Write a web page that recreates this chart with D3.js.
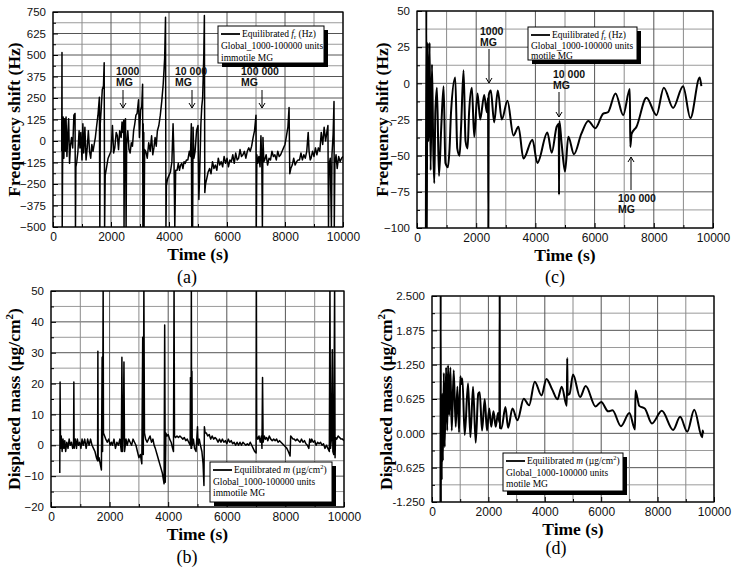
<!DOCTYPE html>
<html><head><meta charset="utf-8">
<script src="https://cdn.jsdelivr.net/npm/d3@7"></script>
<style>body{margin:0;background:#fff} svg{display:block}</style>
</head><body>
<svg id="chart" width="733" height="571"></svg>
<script>
// ---------- data ----------
const timeTicks = [0, 2000, 4000, 6000, 8000, 10000];
const timeGrid = [0,1000,2000,3000,4000,5000,6000,7000,8000,9000,10000];

const freqImmotileTicks = [-500,-375,-250,-125,0,125,250,375,500,625,750];
const freqMotileTicks = [-100,-75,-50,-25,0,25,50];
const massImmotileTicks = [-20,-10,0,10,20,30,40,50];
const massMotileTicks = [-1.25,-0.625,0,0.625,1.25,1.875,2.5];
const massMotileLabels = ["-1.250","-0.625","0.000","0.625","1.250","1.875","2.500"];

// (a) frequency shift, immotile MG  [time s, Hz]
const freqImmotile = [[300,-60],[310,515],[318,-500],[330,-150],[350,140],[375,-100],[400,130],[430,-60],[450,140],[480,-90],[510,40],[540,130],[570,-130],[600,-30],[640,20],[680,-40],[720,150],[760,160],[775,-500],[790,-150],[820,-120],[860,-60],[900,60],[930,-40],[960,50],[1000,-110],[1030,100],[1060,-70],[1100,80],[1140,-110],[1180,-40],[1220,60],[1260,-60],[1300,-100],[1340,-20],[1380,-60],[1420,-20],[1460,20],[1500,80],[1550,150],[1600,255],[1615,-500],[1630,100],[1660,180],[1700,300],[1740,320],[1765,455],[1780,-500],[1800,-200],[1850,-150],[1900,-100],[1950,-80],[2000,-60],[2050,90],[2090,-70],[2130,-40],[2180,50],[2220,30],[2260,-50],[2300,60],[2350,20],[2380,110],[2410,50],[2440,120],[2450,-500],[2470,80],[2500,130],[2520,-500],[2540,-20],[2580,60],[2620,-50],[2660,-70],[2700,-10],[2740,-30],[2780,60],[2820,100],[2860,150],[2900,160],[2950,240],[2980,20],[3020,180],[3060,200],[3090,330],[3100,-500],[3110,100],[3120,-500],[3130,50],[3140,-500],[3160,-50],[3200,-60],[3250,-100],[3300,-10],[3350,-60],[3400,30],[3440,-80],[3480,-40],[3520,20],[3560,-30],[3600,60],[3650,90],[3700,150],[3750,230],[3800,330],[3850,480],[3880,720],[3895,-500],[3910,-260],[3950,-220],[4000,-200],[4050,-180],[4100,-120],[4140,100],[4170,-80],[4200,-500],[4230,-170],[4280,-170],[4320,-130],[4360,-170],[4400,-140],[4440,-130],[4480,-160],[4520,-120],[4560,-130],[4600,-110],[4650,-110],[4700,-60],[4740,-90],[4770,100],[4785,-500],[4800,-80],[4815,-500],[4830,80],[4860,-100],[4900,-60],[4950,60],[5000,90],[5030,-340],[5060,-180],[5100,100],[5130,200],[5160,250],[5200,500],[5220,730],[5235,-300],[5260,-250],[5300,-220],[5350,-180],[5400,-160],[5450,-190],[5500,-120],[5550,-160],[5600,-140],[5650,-170],[5700,-100],[5750,-140],[5800,-120],[5850,-150],[5900,-90],[5950,-130],[6000,-100],[6050,-150],[6100,-110],[6150,-120],[6200,-80],[6250,-130],[6300,-70],[6350,-110],[6400,-100],[6450,-50],[6500,-90],[6550,-80],[6600,-60],[6650,-100],[6700,-60],[6750,-40],[6800,-60],[6850,-30],[6900,20],[6950,60],[7000,150],[7010,-500],[7030,-80],[7060,-130],[7100,-90],[7140,-150],[7170,30],[7200,-120],[7220,-500],[7240,20],[7270,-120],[7300,-110],[7350,-80],[7400,-140],[7450,-100],[7500,-110],[7550,-60],[7600,-90],[7650,-80],[7700,-110],[7750,-60],[7800,-90],[7850,-80],[7900,-60],[7950,-40],[8000,-20],[8050,30],[8100,80],[8140,195],[8165,-190],[8200,-160],[8250,-140],[8300,-100],[8350,-140],[8400,-120],[8450,-110],[8500,-110],[8550,-70],[8600,-110],[8650,-80],[8700,-100],[8750,-60],[8800,50],[8830,-60],[8870,-110],[8900,-100],[8950,-60],[9000,-90],[9050,-40],[9100,-80],[9150,-40],[9200,-60],[9250,50],[9300,-20],[9350,80],[9400,0],[9450,60],[9480,90],[9500,-500],[9520,-140],[9560,-100],[9600,-500],[9620,-80],[9660,40],[9690,230],[9700,-500],[9720,-130],[9760,-80],[9800,-160],[9850,-90],[9900,-120],[9950,-100],[10000,-90]];

// (b) displaced mass, immotile MG  [time s, ug/cm2]
const massImmotile = [[300,-9],[310,20.5],[325,-1],[350,3],[380,-2],[410,2],[440,-1],[470,1.5],[500,-2],[540,1],[580,-1],[620,2],[660,0],[700,1],[740,-1],[770,0],[780,20.5],[790,-1],[830,2],[870,-1],[900,2],[940,0],[980,1],[1020,-1],[1060,2],[1100,0],[1150,2],[1200,-1],[1250,2],[1300,0],[1350,2],[1400,0],[1450,-1],[1500,-2],[1550,-4],[1590,-5],[1600,30.5],[1610,-5],[1640,-4],[1680,-6],[1720,-8],[1745,28.5],[1760,-2],[1780,52],[1790,4],[1830,3],[1870,2],[1920,1],[1970,2],[2020,0],[2060,1],[2100,0],[2150,2],[2200,-1],[2250,1],[2300,0],[2350,2],[2400,-2],[2420,28.5],[2440,-2],[2470,6],[2490,27],[2510,-2],[2560,2],[2600,0],[2650,2],[2700,1],[2750,0],[2800,2],[2850,1],[2900,0],[2950,-2],[3000,-4],[3050,-3],[3100,-6],[3130,35],[3150,-3],[3170,52],[3190,4],[3230,2],[3280,1],[3330,2],[3380,3],[3430,1],[3480,2],[3520,0],[3560,-1],[3620,-3],[3680,-5],[3740,-7],[3800,-9],[3860,-12.5],[3880,39],[3900,-12],[3920,4],[3960,3],[4000,3.5],[4050,2],[4100,1],[4150,-1],[4180,-2],[4200,52],[4215,3],[4250,2.5],[4300,3],[4350,2.5],[4400,3],[4450,2.5],[4500,2],[4550,2.5],[4600,1.5],[4650,2],[4700,1],[4750,0],[4760,22],[4780,-1],[4790,52],[4800,-1],[4810,24],[4820,0],[4860,2],[4900,-1],[4950,-2],[5000,6],[5020,0],[5060,2],[5100,0],[5150,-2],[5190,-6],[5220,-13],[5235,6],[5260,4],[5300,4],[5350,3],[5400,3.5],[5450,2],[5500,3],[5550,2],[5600,2.5],[5650,2],[5700,1],[5750,2],[5800,1],[5850,2],[5900,1],[5950,1.5],[6000,0.5],[6050,2],[6100,1],[6150,1.5],[6200,0.5],[6250,1],[6300,0],[6350,1],[6400,0],[6450,1],[6500,0],[6550,1],[6600,0.5],[6650,0],[6700,0.5],[6750,0],[6800,1],[6850,0],[6900,-1],[6950,-2],[7000,-2.5],[7010,52],[7020,3],[7060,2],[7100,3],[7140,1],[7180,3],[7200,-1],[7220,22],[7240,1],[7280,3],[7320,2],[7360,2.5],[7400,1.5],[7450,3],[7500,2],[7550,1.5],[7600,2],[7650,1.5],[7700,2],[7750,1],[7800,1.5],[7850,1],[7900,0.5],[7950,0],[8000,-0.5],[8050,-1],[8100,-2],[8160,-3.5],[8180,3],[8220,2.5],[8260,2],[8300,2],[8350,1.5],[8400,2],[8450,1.5],[8500,1],[8550,2],[8600,1],[8650,1.5],[8700,0.5],[8750,0],[8800,-1],[8830,2],[8870,1],[8900,2],[8950,1],[9000,1.5],[9050,0],[9100,1],[9150,0.5],[9200,1],[9250,0],[9300,0.5],[9350,-1],[9400,0],[9450,-1],[9500,-2],[9520,52],[9540,-1],[9570,2],[9600,31],[9620,-2],[9650,-3],[9680,52],[9695,-4],[9710,2.5],[9750,2],[9800,3],[9850,2.5],[9900,2],[9950,2],[10000,1.5]];

// (c) frequency shift, motile MG
const freqMotile = [[300,-100],[315,55],[330,-100],[340,-40],[360,28],[380,-40],[400,-30],[427,28],[460,-60],[506,13],[550,-45],[584,-69],[620,-20],[674,-3],[742,-64],[820,-30],[899,-2],[960,-55],[1045,-58],[1100,-45],[1150,-20],[1292,4],[1360,-45],[1438,-50],[1490,-30],[1573,9],[1640,-40],[1708,-45],[1760,-20],[1854,-3],[1933,-37],[2045,-7],[2135,-25],[2270,-8],[2360,-20],[2400,-10],[2410,-100],[2425,-8],[2494,-5],[2607,-27],[2730,-5],[2865,-25],[3056,-12],[3258,-36],[3427,-30],[3596,-52],[3899,-39],[4067,-55],[4404,-34],[4551,-48],[4719,-30],[4790,-28],[4798,-77],[4809,-26],[4888,-42],[5000,-61],[5112,-37],[5303,-49],[5550,-35],[5787,-26],[6022,-31],[6292,-21],[6450,-20],[6708,-7],[6966,-22],[7191,-4],[7205,-44],[7250,-35],[7416,-30],[7753,-10],[8090,-22],[8337,-3],[8652,-17],[8989,-2],[9236,-24],[9551,4],[9607,-2]];

// (d) displaced mass, motile MG
const massMotile = [[300,-1.3],[308,2.6],[315,-1.3],[330,0.7],[345,-0.85],[360,0.72],[385,-0.5],[420,1.1],[450,-0.25],[500,1.2],[540,0.05],[570,1.24],[610,0.33],[652,1.2],[700,0.05],[770,1.15],[841,0.12],[900,0.85],[960,0.02],[1006,1.04],[1040,0.9],[1077,1.0],[1160,-0.03],[1278,0.91],[1361,-0.07],[1455,0.85],[1550,-0.17],[1640,0.72],[1692,0.75],[1775,0.05],[1869,0.62],[1950,0.05],[2030,0.45],[2100,0.12],[2180,0.4],[2260,0.12],[2340,0.37],[2390,0.2],[2400,2.6],[2410,0.1],[2462,0.09],[2604,0.48],[2698,0.1],[2852,0.45],[3030,0.24],[3254,0.63],[3444,0.51],[3645,0.94],[3882,0.69],[4059,0.99],[4260,0.8],[4450,0.62],[4600,0.85],[4780,0.5],[4795,1.37],[4810,0.7],[4880,0.72],[5000,1.07],[5250,0.66],[5450,0.86],[5800,0.49],[6000,0.57],[6250,0.4],[6400,0.42],[6700,0.13],[7000,0.37],[7200,0.07],[7215,0.78],[7350,0.5],[7550,0.45],[7800,0.18],[8150,0.41],[8550,0.06],[8800,0.3],[9050,0.03],[9300,0.43],[9580,-0.07],[9600,0.05],[9620,0.0]];

const legendFreq = ["Equilibrated ", "f", "r", " (Hz)"];
const legendMass = ["Equilibrated ", "m", " (\u00b5g/cm", "2", ")"];
const legendGlobal = "Global_1000-100000 units";
const annotationLabels = [["1000","MG"],["10 000","MG"],["100 000","MG"]];

// ---------- drawing ----------
const svg = d3.select("#chart");
const SANS = "'Liberation Sans', Arial, sans-serif";
const SERIF = "'Liberation Serif', 'Times New Roman', serif";

function panel(cfg, id) {
  const g = svg.append("g");
  const x = d3.scaleLinear().domain([0, 10000]).range([cfg.x0, cfg.x1]);
  const y = d3.scaleLinear().domain([cfg.ticks[0], cfg.ticks[cfg.ticks.length-1]]).range([cfg.yBot, cfg.yTop]);
  const step = cfg.ticks[1] - cfg.ticks[0];
  const minor = cfg.ticks.slice(0, -1).map(t => t + step/2);

  // grid
  g.selectAll(".hm").data(minor).join("line")
    .attr("x1", cfg.x0).attr("x2", cfg.x1).attr("y1", d => y(d)).attr("y2", d => y(d))
    .attr("stroke", "#9a9a9a").attr("stroke-width", 1);
  g.selectAll(".hM").data(cfg.ticks).join("line")
    .attr("x1", cfg.x0).attr("x2", cfg.x1).attr("y1", d => y(d)).attr("y2", d => y(d))
    .attr("stroke", "#555").attr("stroke-width", 1);
  g.selectAll(".v").data(timeGrid).join("line")
    .attr("x1", d => x(d)).attr("x2", d => x(d)).attr("y1", cfg.yTop).attr("y2", cfg.yBot)
    .attr("stroke", (d) => d % 2000 === 0 ? "#555" : "#8a8a8a").attr("stroke-width", 1);

  // clip + line
  svg.append("clipPath").attr("id", "clip" + id).append("rect")
    .attr("x", cfg.x0).attr("y", cfg.yTop).attr("width", cfg.x1 - cfg.x0).attr("height", cfg.yBot - cfg.yTop);
  const line = d3.line().x(d => x(d[0])).y(d => y(d[1])).curve(cfg.curve);
  g.append("path").datum(cfg.data).attr("clip-path", `url(#clip${id})`)
    .attr("d", line).attr("fill", "none").attr("stroke", "#000")
    .attr("stroke-width", cfg.lw).attr("stroke-linejoin", "round");

  // frame
  g.append("rect").attr("x", cfg.x0).attr("y", cfg.yTop).attr("width", cfg.x1 - cfg.x0)
    .attr("height", cfg.yBot - cfg.yTop).attr("fill", "none").attr("stroke", "#000").attr("stroke-width", 1.2);

  // axes
  const ay = d3.axisLeft(y).tickValues(cfg.ticks).tickSize(-5).tickPadding(7)
    .tickFormat((d, i) => cfg.labels ? cfg.labels[i] : d3.format("")(d));
  const gy = g.append("g").attr("transform", `translate(${cfg.x0},0)`).call(ay);
  gy.select(".domain").remove();
  gy.selectAll("text").attr("font-family", SANS).attr("font-size", 11.5).attr("fill", "#111");
  const axm = d3.axisLeft(y).tickValues(minor).tickSize(-3).tickFormat("");
  g.append("g").attr("transform", `translate(${cfg.x0},0)`).call(axm).select(".domain").remove();

  const ax = d3.axisBottom(x).tickValues(timeTicks).tickSize(-5).tickPadding(5).tickFormat(d3.format(""));
  const gx = g.append("g").attr("transform", `translate(0,${cfg.yBot})`).call(ax);
  gx.select(".domain").remove();
  gx.selectAll("text").attr("font-family", SANS).attr("font-size", 12).attr("fill", "#111");
  const axmin = d3.axisBottom(x).tickValues(timeGrid.filter(d => d % 2000)).tickSize(-3).tickFormat("");
  g.append("g").attr("transform", `translate(0,${cfg.yBot})`).call(axmin).select(".domain").remove();

  // titles
  g.append("text").attr("x", (cfg.x0 + cfg.x1)/2).attr("y", cfg.yBot + 33)
    .attr("text-anchor", "middle").attr("font-family", SERIF).attr("font-weight", "bold")
    .attr("font-size", 17.5).text("Time (s)");
  const yt = g.append("text").attr("transform", `translate(${cfg.ytx},${(cfg.yTop+cfg.yBot)/2}) rotate(-90)`)
    .attr("text-anchor", "middle").attr("font-family", SERIF).attr("font-weight", "bold").attr("font-size", 17.5);
  if (cfg.mass) {
    yt.append("tspan").text("Displaced mass (\u00b5g/cm");
    yt.append("tspan").attr("font-size", 11).attr("dy", -7).text("2");
    yt.append("tspan").attr("dy", 7).text(")");
  } else {
    yt.text("Frequency shift (Hz)");
  }
  g.append("text").attr("x", cfg.subx).attr("y", cfg.suby).attr("text-anchor", "middle")
    .attr("font-family", SERIF).attr("font-size", 18).text(cfg.sub);

  // legend
  const L = cfg.legend;
  g.append("rect").attr("x", L.x + 4).attr("y", L.y + 4).attr("width", L.w).attr("height", L.h).attr("fill", "#000");
  g.append("rect").attr("x", L.x).attr("y", L.y).attr("width", L.w).attr("height", L.h)
    .attr("fill", "#fff").attr("stroke", "#000").attr("stroke-width", 1);
  g.append("line").attr("x1", L.x + 3).attr("x2", L.x + 22).attr("y1", L.y + 8).attr("y2", L.y + 8)
    .attr("stroke", "#000").attr("stroke-width", 1.8);
  const t1 = g.append("text").attr("x", L.x + 24).attr("y", L.y + 11).attr("font-family", SERIF).attr("font-size", 9.5);
  if (cfg.mass) {
    t1.append("tspan").text(legendMass[0]);
    t1.append("tspan").attr("font-style", "italic").text(legendMass[1]);
    t1.append("tspan").text(legendMass[2]);
    t1.append("tspan").attr("font-size", 6.5).attr("dy", -4).text(legendMass[3]);
    t1.append("tspan").attr("dy", 4).text(legendMass[4]);
  } else {
    t1.append("tspan").text(legendFreq[0]);
    t1.append("tspan").attr("font-style", "italic").text(legendFreq[1]);
    t1.append("tspan").attr("font-size", 6.5).attr("dy", 2).text(legendFreq[2]);
    t1.append("tspan").attr("dy", -2).text(legendFreq[3]);
  }
  g.append("text").attr("x", L.x + 3).attr("y", L.y + L.lh + 11).attr("font-family", SERIF).attr("font-size", 9.5).text(legendGlobal);
  g.append("text").attr("x", L.x + 3).attr("y", L.y + 2*L.lh + 11).attr("font-family", SERIF).attr("font-size", 9.5).text(cfg.mg);

  // annotations
  (cfg.ann || []).forEach((a, i) => {
    const lab = annotationLabels[i];
    g.append("text").attr("x", a.tx).attr("y", a.ty).attr("font-family", SANS).attr("font-weight", "bold")
      .attr("font-size", 10.5).attr("fill", "#111").text(lab[0]);
    g.append("text").attr("x", a.tx).attr("y", a.ty + 11).attr("font-family", SANS).attr("font-weight", "bold")
      .attr("font-size", 10.5).attr("fill", "#111").text(lab[1]);
    const dir = a.y2 > a.y1 ? 1 : -1;
    g.append("line").attr("x1", a.ax).attr("x2", a.ax).attr("y1", a.y1).attr("y2", a.y2)
      .attr("stroke", "#000").attr("stroke-width", 1);
    g.append("path").attr("d", `M${a.ax-3},${a.y2-5*dir} L${a.ax},${a.y2} L${a.ax+3},${a.y2-5*dir}`)
      .attr("fill", "none").attr("stroke", "#000").attr("stroke-width", 1);
  });
}

panel({x0:53, x1:343, yTop:12, yBot:227, ticks:freqImmotileTicks, data:freqImmotile,
  curve:d3.curveLinear, lw:1.5, ytx:20, sub:"(a)", subx:187, suby:283, mg:"immotile MG",
  legend:{x:218, y:26, w:106, h:37, lh:12},
  ann:[{tx:116, ty:75, ax:123, y1:90, y2:108},{tx:175, ty:75, ax:192, y1:90, y2:108},{tx:241, ty:75, ax:262, y1:90, y2:108}]}, "a");

panel({x0:417, x1:713, yTop:11, yBot:228, ticks:freqMotileTicks, data:freqMotile,
  curve:d3.curveMonotoneX, lw:2, ytx:388, sub:"(c)", subx:555, suby:283, mg:"motile MG",
  legend:{x:528, y:27, w:109, h:33, lh:10.5},
  ann:[{tx:480, ty:35, ax:489, y1:49, y2:83},{tx:553, ty:78, ax:559, y1:92, y2:117},{tx:618, ty:202, ax:631, y1:190, y2:157}]}, "c");

panel({x0:51, x1:344, yTop:291, yBot:507, ticks:massImmotileTicks, data:massImmotile,
  curve:d3.curveLinear, lw:1.5, ytx:20, sub:"(b)", subx:187, suby:563, mass:true, mg:"immotile MG",
  legend:{x:210, y:462, w:122, h:40, lh:11.5}}, "b");

panel({x0:432, x1:714, yTop:296, yBot:502, ticks:massMotileTicks, labels:massMotileLabels, data:massMotile,
  curve:d3.curveMonotoneX, lw:2, ytx:392, sub:"(d)", subx:556, suby:554, mass:true, mg:"motile MG",
  legend:{x:503, y:453, w:120, h:38, lh:11.5}}, "d");
</script>
</body></html>
